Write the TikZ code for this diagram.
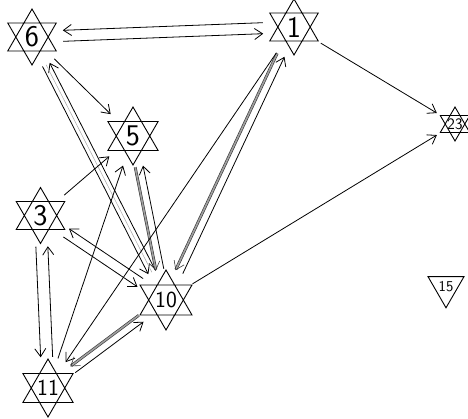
\documentclass[tikz,border=0pt]{standalone}
\usetikzlibrary{arrows.meta, positioning, calc, shapes.geometric}
\tikzset{
    font=\sffamily,
    >={Straight Barb[length=8pt, width=11pt]},
    % Nodes
    vertex/.style={circle, inner sep=0pt, minimum size=62pt,
                   font=\sffamily\fontsize{30}{30}\selectfont},
    vertexTwo/.style={vertex, font=\sffamily\fontsize{23}{23}\selectfont},
    vertexSmall/.style={circle, inner sep=0pt, minimum size=42pt,
                        font=\sffamily\fontsize{16}{16}\selectfont},
    sink/.style={regular polygon, regular polygon sides=3, shape border rotate=180,
                 draw, line width=0.9pt, inner sep=0pt, minimum size=38pt,
                 font=\sffamily\fontsize{15}{15}\selectfont},
    starline/.style={line width=0.9pt},
    % Edges
    flow/.style={->, line width=0.8pt},
    heavy/.style={->, line width=0.6pt, draw=black!80, double=gray!75, double distance=1.6pt},
    faint/.style={line width=0.5pt, gray!70},
    pair/.style={to path={($(\tikztostart)!#1!-90:(\tikztotarget)$) -- ($(\tikztotarget)!#1!90:(\tikztostart)$)},
                 shorten <=31pt, shorten >=31pt}
}
\begin{document}
\begin{tikzpicture}[on grid]

\useasboundingbox (0,0) rectangle (468pt,-418pt);

% Nodes
\node[vertex] (six) at (32pt,-37pt) {6};
\node[vertex, above right=10pt and 262pt of six] (one) {1};
\node[vertex, below right=99pt and 101pt of six] (five) {5};
\node[vertex, below right=178.5pt and 8.5pt of six] (three) {3};
\node[vertexTwo, below right=164pt and 33pt of five] (ten) {10};
\node[vertexTwo, below right=172.5pt and 7.5pt of three] (eleven) {11};
\node[vertexSmall, below right=97pt and 161pt of one] (twothree) {23};
\node[sink, below left=163pt and 9pt of twothree] (fifteen) {15};

% Stars
\foreach \n/\r in {six/28, one/28, five/29, three/28, ten/30, eleven/29, twothree/17}
    \draw[starline] (\n.center) +(90:\r pt) -- +(210:\r pt) -- +(330:\r pt) -- cycle
                    (\n.center) +(270:\r pt) -- +(30:\r pt) -- +(150:\r pt) -- cycle;

% Arrows
\draw[flow, pair=5.5pt] (one) to (six);
\draw[flow, pair=5.5pt] (six) to (one);
\draw[flow] (one) -- (twothree);
\draw[flow] (ten) -- (twothree);
\draw[flow] (six) -- (five);
\draw[flow, pair=4pt] (six) to (ten);
\draw[flow, pair=4pt] (ten) to (six);
\draw[faint] (six) -- (ten);
\draw[heavy, pair=4pt] (five) to (ten);
\draw[flow, pair=4pt] (ten) to (five);
\draw[heavy, pair=4pt] (one) to (ten);
\draw[flow, pair=4pt] (ten) to (one);
\draw[flow] (one) -- (eleven);
\draw[flow] (eleven) -- (five);
\draw[flow] (three) -- (five);
\draw[flow, pair=6pt] (three) to (eleven);
\draw[flow, pair=6pt] (eleven) to (three);
\draw[heavy, pair=4pt] (ten) to (eleven);
\draw[flow, pair=4pt] (eleven) to (ten);
\draw[flow, pair=5pt] (three) to (ten);
\draw[flow, pair=5pt] (ten) to (three);

\end{tikzpicture}
\end{document}
